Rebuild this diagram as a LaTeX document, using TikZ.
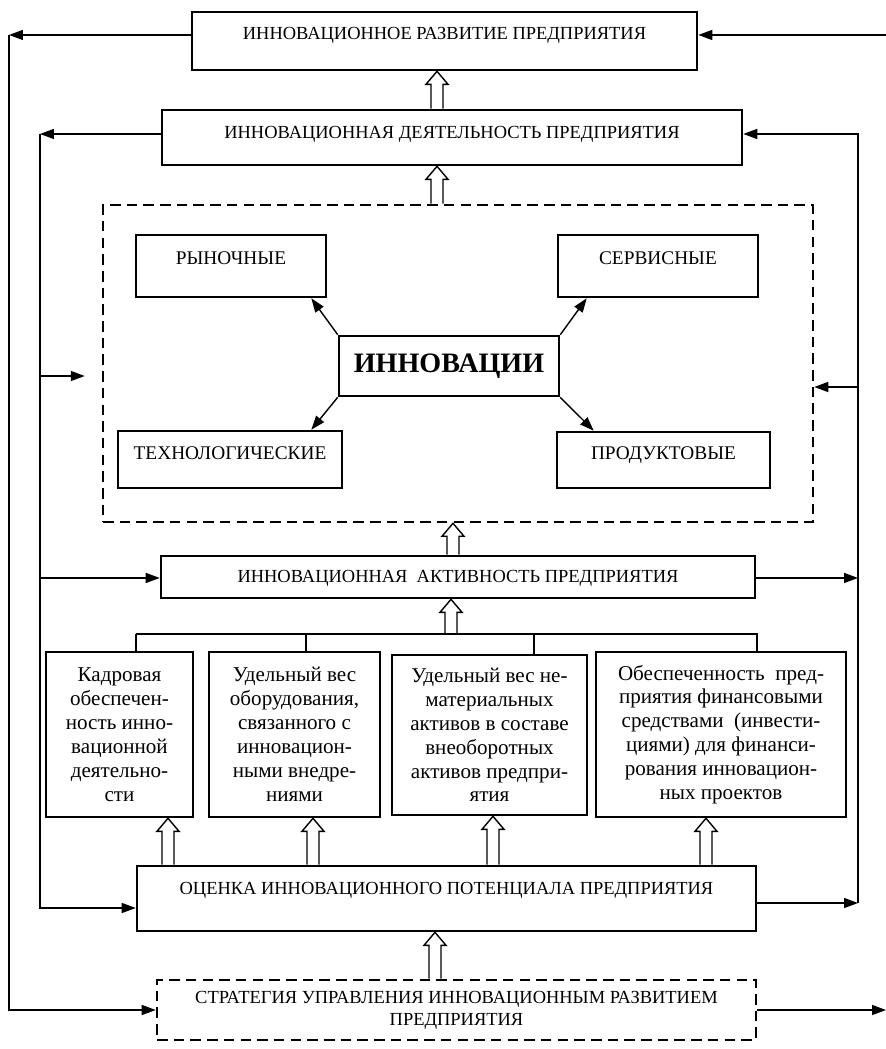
\documentclass[tikz,border=0pt]{standalone}
\usepackage{fontspec}
\setmainfont{Liberation Serif}
\usetikzlibrary{calc,arrows.meta}

\tikzset{
  box/.style={draw, line width=1.5pt, inner sep=0pt, align=center, font=\fontsize{10.5}{12.5}\selectfont},
  dbox/.style={box, dash pattern=on 6pt off 3.5pt},
  tb/.style 2 args={text height=#1, text depth=#2},
  kind/.style={box, font=\fontsize{11}{12}\selectfont},
  fbox/.style={box, minimum height=3.3cm, font=\fontsize{12}{13.6}\selectfont},
  wire/.style={line width=0.8pt},
  link/.style={wire, -{Triangle[length=2.8mm,width=2mm]}},
  hollow/.style={line width=0.8pt, to path={let \p1=(\tikztostart), \p2=(\tikztotarget) in
      (\x1-0.12cm,\y1) -- (\x1-0.12cm,\y2-0.26cm) -- (\x1-0.22cm,\y2-0.26cm) -- (\x1,\y2)
      -- (\x1+0.22cm,\y2-0.26cm) -- (\x1+0.12cm,\y2-0.26cm) -- (\x1+0.12cm,\y1)}}
}

\begin{document}
\begin{tikzpicture}[x=0.02cm,y=-0.02cm]
\useasboundingbox (0,0) rectangle (886,1049);

\node[box, tb={0.54cm}{0.62cm}, minimum width=10.1cm] (razv) at (444.5,41) {ИННОВАЦИОННОЕ РАЗВИТИЕ ПРЕДПРИЯТИЯ};
\node[box, tb={0.56cm}{0.54cm}, minimum width=11.6cm] (delo) at (452,137.5) {ИННОВАЦИОННАЯ ДЕЯТЕЛЬНОСТЬ ПРЕДПРИЯТИЯ};
\node[dbox, minimum width=14.2cm, minimum height=6.34cm] (zone) at (458,363.5) {};
\node[kind, tb={0.58cm}{0.66cm}, minimum width=3.8cm] (rynok) at (231,266) {РЫНОЧНЫЕ};
\node[kind, tb={0.58cm}{0.66cm}, minimum width=4cm] (servis) at (658,266) {СЕРВИСНЫЕ};
\node[box, minimum width=4.4cm, minimum height=1.2cm, font=\fontsize{16}{18}\selectfont\bfseries] (innov) at (449,366) {ИННОВАЦИИ};
\node[kind, tb={0.56cm}{0.58cm}, minimum width=4.48cm] (tekh) at (230,459.5) {ТЕХНОЛОГИЧЕСКИЕ};
\node[kind, tb={0.54cm}{0.58cm}, minimum width=4.26cm] (prod) at (663.5,460) {ПРОДУКТОВЫЕ};
\node[box, tb={0.52cm}{0.32cm}, minimum width=11.88cm] (akt) at (458,577) {ИННОВАЦИОННАЯ\ \ АКТИВНОСТЬ ПРЕДПРИЯТИЯ};

\node[fbox, minimum width=2.94cm] (kadr) at (119.5,734.5) {Кадровая\\обеспечен-\\ность инно-\\вационной\\деятельно-\\сти};
\node[fbox, minimum width=3.42cm] (obor) at (294.5,734.5) {Удельный вес\\оборудования,\\связанного с\\инновацион-\\ными внедре-\\ниями};
\node[fbox, minimum width=3.9cm, minimum height=3.2cm] (nemat) at (489.5,735) {Удельный вес не-\\материальных\\активов в составе\\внеоборотных\\активов предпри-\\ятия};
\node[fbox, minimum width=5cm] (fin) at (721,734.5) {Обеспеченность\ \ пред-\\приятия финансовыми\\средствами\ \ (инвести-\\циями) для финанси-\\рования инновацион-\\ных проектов};

\node[box, tb={0.56cm}{0.74cm}, minimum width=12.38cm] (ocenka) at (446.5,898.5) {ОЦЕНКА ИННОВАЦИОННОГО ПОТЕНЦИАЛА ПРЕДПРИЯТИЯ};
\node[dbox, minimum width=11.98cm, minimum height=1.2cm] (strat) at (456.5,1010) {СТРАТЕГИЯ УПРАВЛЕНИЯ ИННОВАЦИОННЫМ РАЗВИТИЕМ\\ПРЕДПРИЯТИЯ};

\coordinate (ol) at (9,0);
\coordinate (il) at (40,0);
\coordinate (ir) at (858,0);
\coordinate (rr) at (886,0);
\coordinate (zl) at ([shift={(-17,12.5)}]zone.west);
\coordinate (zr) at ([shift={(0,23.5)}]zone.east);
\coordinate (ocl) at ([yshift=-0.19cm]ocenka.west);
\coordinate (ocr) at ([yshift=-0.09cm]ocenka.east);
\coordinate (bus) at (451,634);

\draw[link] (razv.mid west) -- (razv.mid west -| ol);
\draw[link] (razv.mid west -| ol) -- (ol |- strat.west) -- (strat.west);
\draw[link] (razv.mid east -| rr) -- (razv.mid east);
\draw[link] (strat.east) -- (strat.east -| rr);

\draw[link] (delo.mid west) -- (delo.mid west -| il);
\draw[link] (delo.mid west -| il) -- (il |- ocl) -- (ocl);
\draw[link] (zl -| il) -- (zl);
\draw[link] (akt.mid west -| il) -- (akt.mid west);

\draw[link] (ir |- ocr) -- (ir |- delo.mid east) -- (delo.mid east);
\draw[link] (zr -| ir) -- (zr);
\draw[link] (akt.mid east) -- (akt.mid east -| ir);
\draw[link] (ocr) -- (ocr -| ir);

\draw[link] (innov.north west) -- ([xshift=-0.32cm]rynok.south east);
\draw[link] (innov.north east) -- ([xshift=0.6cm]servis.south west);
\draw[link] (innov.south west) -- ([xshift=-0.64cm]tekh.north east);
\draw[link] (innov.south east) -- ([xshift=0.76cm]prod.north west);

\coordinate (a1) at (437,0);
\coordinate (a2) at (453,0);
\coordinate (a3) at (435,0);
\draw[wire] (136,634) -- (136,634 |- kadr.north);
\draw[wire] (136,634) -- (757,634) -- (757,634 |- fin.north);
\draw[wire] (306,634) -- (306,634 |- obor.north);
\draw[wire] (534,634) -- (534,634 |- nemat.north);

\draw[hollow] (a1 |- delo.north) to (a1 |- razv.south);
\draw[hollow] (a1 |- zone.north) to (a1 |- delo.south);
\draw[hollow] (a2 |- akt.north) to (a2 |- zone.south);
\draw[hollow] (bus) to (bus |- akt.south);
\foreach \px/\bx in {168/kadr,313/obor,493/nemat,706/fin}{
  \coordinate (up) at (\px,0);
  \draw[hollow] (up |- ocenka.north) to (up |- \bx.south);
}
\draw[hollow] (a3 |- strat.north) to (a3 |- ocenka.south);
\end{tikzpicture}
\end{document}
